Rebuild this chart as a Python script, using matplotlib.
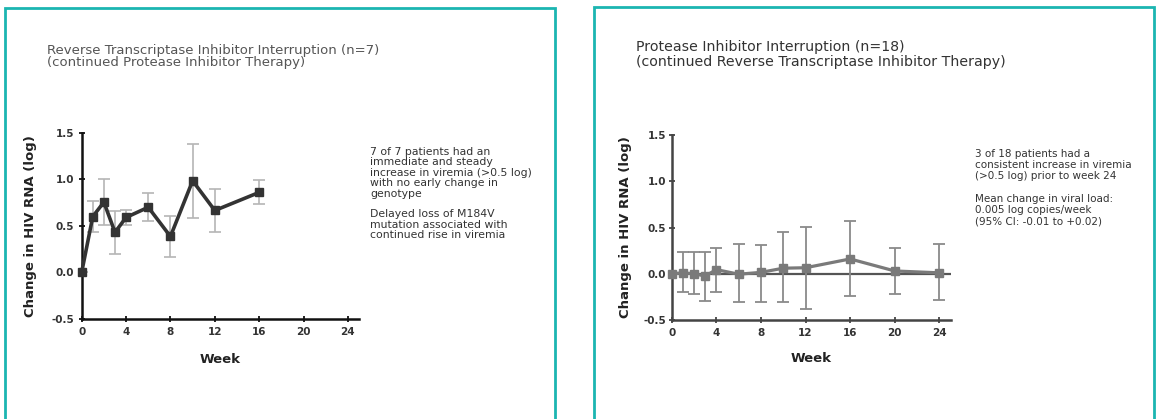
import matplotlib
matplotlib.use("Agg")
import matplotlib.pyplot as plt
from matplotlib.patches import Rectangle

plt.rcParams['font.family'] = ['DejaVu Sans']

# ---- data ----
rti_weeks = [0, 1, 2, 3, 4, 6, 8, 10, 12, 16]
rti_change = [0.0, 0.60, 0.755, 0.43, 0.59, 0.70, 0.385, 0.985, 0.665, 0.86]
rti_err = [0.0, 0.17, 0.25, 0.23, 0.08, 0.15, 0.22, 0.40, 0.23, 0.13]

pi_weeks = [0, 1, 2, 3, 4, 6, 8, 10, 12, 16, 20, 24]
pi_change = [0.0, 0.01, 0.0, -0.025, 0.045, -0.005, 0.015, 0.06, 0.065, 0.16, 0.03, 0.01]
pi_err_low = [0.0, 0.21, 0.22, 0.265, 0.245, 0.305, 0.32, 0.37, 0.445, 0.405, 0.25, 0.29]
pi_err_high = [0.0, 0.23, 0.24, 0.265, 0.235, 0.33, 0.30, 0.39, 0.44, 0.41, 0.25, 0.315]

x_ticks = [0, 4, 8, 12, 16, 20, 24]
y_ticks = [-0.5, 0.0, 0.5, 1.0, 1.5]
y_label = "Change in HIV RNA (log)"
x_label = "Week"

rti_title = "Reverse Transcriptase Inhibitor Interruption (n=7)\n(continued Protease Inhibitor Therapy)"
pi_title = "Protease Inhibitor Interruption (n=18)\n(continued Reverse Transcriptase Inhibitor Therapy)"
rti_note = ("7 of 7 patients had an\nimmediate and steady\nincrease in viremia (>0.5 log)\n"
            "with no early change in\ngenotype\n\nDelayed loss of M184V\n"
            "mutation associated with\ncontinued rise in viremia")
pi_note = ("3 of 18 patients had a\nconsistent increase in viremia\n(>0.5 log) prior to week 24\n\n"
           "Mean change in viral load:\n0.005 log copies/week\n(95% CI: -0.01 to +0.02)")

W, H = 1157, 419
fig = plt.figure(figsize=(W / 100, H / 100), dpi=100)

def fx(px):
    return px / W

def fy(py):
    return 1 - py / H

teal = '#1bb5b1'
# panel borders
fig.add_artist(Rectangle((fx(5.5), fy(440)), fx(555) - fx(5.5), fy(8.5) - fy(440),
                         transform=fig.transFigure, fill=False, ec=teal, lw=2.0, clip_on=False))
fig.add_artist(Rectangle((fx(593.5), fy(440)), fx(1153.7) - fx(593.5), fy(7.5) - fy(440),
                         transform=fig.transFigure, fill=False, ec=teal, lw=2.0, clip_on=False))

def setup(ax, spine_col, ypad, ylab_x, xlab_y):
    ax.set_xlim(0, 25)
    ax.set_ylim(-0.5, 1.5)
    for s in ['top', 'right']:
        ax.spines[s].set_visible(False)
    for s in ['left', 'bottom']:
        ax.spines[s].set_color(spine_col)
        ax.spines[s].set_linewidth(1.8)
    ax.set_xticks(x_ticks)
    ax.set_yticks(y_ticks)
    ax.set_yticklabels([f"{v:.1f}" for v in y_ticks])
    ax.tick_params(direction='inout', length=5, width=1.3, color=spine_col,
                   labelsize=7.5, labelcolor='#333')
    ax.tick_params(axis='x', pad=3.5)
    ax.tick_params(axis='y', pad=ypad)
    for lab in ax.get_xticklabels() + ax.get_yticklabels():
        lab.set_fontweight('bold')
    yl = ax.set_ylabel(y_label, fontsize=9.5, fontweight='bold', color='#222')
    yl.set_verticalalignment('center')
    ax.yaxis.set_label_coords(ylab_x, 0.5)
    xl = ax.set_xlabel(x_label, fontsize=9.5, fontweight='bold', color='#222')
    xl.set_verticalalignment('center')
    ax.xaxis.set_label_coords(0.5, xlab_y)
    ax.patch.set_alpha(0)

# left axes
axL = fig.add_axes([fx(81.7), fy(318.6), fx(359) - fx(81.7), fy(133) - fy(318.6)])
setup(axL, '#111', 3, (31 - 81.7) / 277.3, (318.6 - 359) / 185.6)
axL.errorbar(rti_weeks, rti_change, yerr=rti_err, fmt='none', ecolor='#b5b5b5',
             elinewidth=1.2, capsize=4, capthick=1.2, zorder=2)
axL.plot(rti_weeks, rti_change, color='#333', lw=2.6, marker='s', ms=5.8,
         mfc='#333', mec='#333', zorder=3, clip_on=False)

# right axes
axR = fig.add_axes([fx(671.7), fy(320), fx(950.5) - fx(671.7), fy(135) - fy(320)])
setup(axR, '#444', 1.5, (626 - 671.7) / 278.8, (320 - 358) / 185)
axR.axhline(0, color='#555', lw=1.6, zorder=1)
axR.errorbar(pi_weeks, pi_change, yerr=[pi_err_low, pi_err_high], fmt='none', ecolor='#8a8a8a',
             elinewidth=1.3, capsize=4, capthick=1.3, zorder=2)
axR.plot(pi_weeks, pi_change, color='#7a7a7a', lw=2.3, marker='s', ms=5.8,
         mfc='#7a7a7a', mec='#7a7a7a', zorder=3, clip_on=False)

# titles
fig.text(fx(47), fy(44), rti_title, fontsize=9.5, color='#555', va='top', ha='left',
         linespacing=0.88)
fig.text(fx(636), fy(40), pi_title, fontsize=10.2, color='#333', va='top', ha='left',
         linespacing=1.05)

# notes
fig.text(fx(370), fy(147), rti_note, fontsize=7.8, color='#333', va='top', ha='left',
         linespacing=1.05)
fig.text(fx(975), fy(149), pi_note, fontsize=7.5, color='#333', va='top', ha='left',
         linespacing=1.15)

fig.savefig('out.png', dpi=100)
